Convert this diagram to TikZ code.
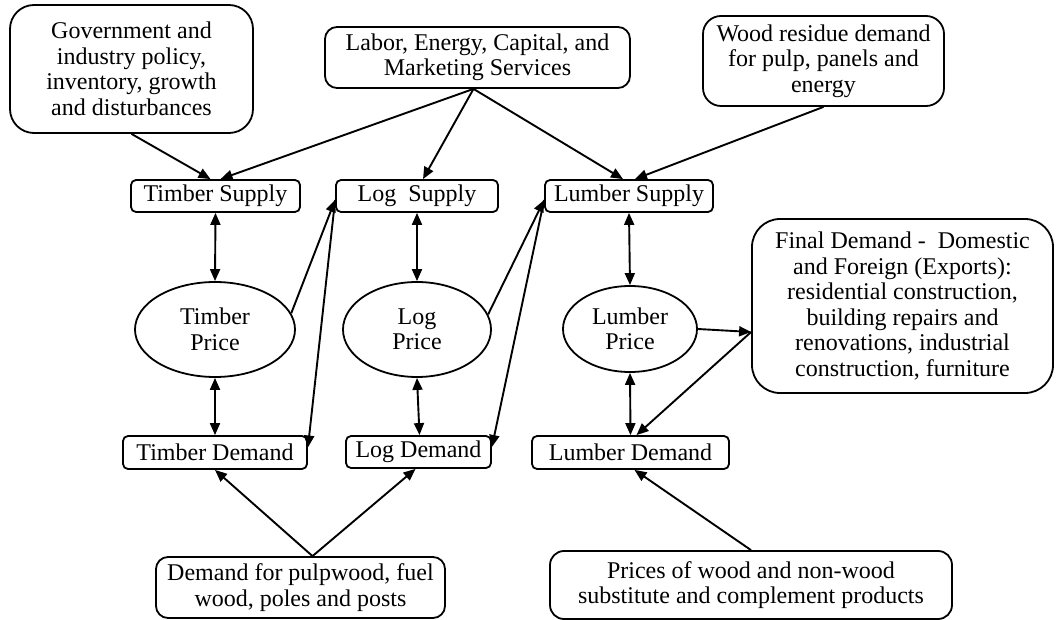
\documentclass[tikz,border=0pt]{standalone}
\usepackage{fontspec}
\setmainfont{Liberation Serif}
\usetikzlibrary{arrows.meta,shapes.geometric}
\begin{document}
\begin{tikzpicture}[x=1pt,y=-1pt,
  box/.style={draw, line width=1.8pt, rectangle, rounded corners=#1, inner sep=0pt, align=center,
    font=\fontsize{24}{25.5}\selectfont},
  box/.default=5pt,
  price/.style={draw, line width=1.8pt, ellipse, inner sep=0pt, align=center,
    font=\fontsize{24}{25.5}\selectfont},
  conn/.style={line width=1.9pt, -{Triangle[length=12pt,width=10pt]}},
  dconn/.style={line width=1.9pt, {Triangle[length=12pt,width=10pt]}-{Triangle[length=12pt,width=10pt]}}
]
\useasboundingbox (0,0) rectangle (1063,620);

% top inputs
\node[box=24pt, minimum width=243pt, minimum height=128pt] (gov) at (131.5,69)
  {Government and\\industry policy,\\inventory, growth\\and disturbances};
\node[box=12pt, minimum width=305pt, minimum height=61pt] (lab) at (477.5,57.5)
  {Labor, Energy, Capital, and\\Marketing Services};
\node[box=18pt, minimum width=241pt, minimum height=90pt] (wood) at (823.5,61)
  {Wood residue demand\\for pulp, panels and\\energy};

% supplies
\node[box, minimum width=169pt, minimum height=32pt] (ts) at (215.5,196) {Timber Supply};
\node[box, minimum width=162pt, minimum height=32pt] (ls) at (417,196) {Log\ \ Supply};
\node[box, minimum width=168pt, minimum height=32pt] (us) at (629,196) {Lumber Supply};

% prices
\node[price, minimum width=160pt, minimum height=95pt] (tp) at (215,329.5) {Timber\\Price};
\node[price, minimum width=148pt, minimum height=95pt] (lp) at (417,329.5) {Log\\Price};
\node[price, minimum width=134pt, minimum height=86pt] (up) at (630,329) {Lumber\\Price};

% demands
\node[box, minimum width=184pt, minimum height=33pt] (td) at (215,452.5) {Timber Demand};
\node[box, minimum width=145pt, minimum height=32pt] (ld) at (418.5,452) {Log Demand};
\node[box, minimum width=197pt, minimum height=33pt] (ud) at (630.5,452.5) {Lumber Demand};

% final demand
\node[box=28pt, minimum width=301pt, minimum height=174pt] (fd) at (902.5,306)
  {Final Demand -\ \ Domestic\\and Foreign (Exports):\\residential construction,\\building repairs and\\renovations, industrial\\construction, furniture};

% bottom inputs
\node[box=12pt, minimum width=289pt, minimum height=61pt] (pw) at (300.5,587.5)
  {Demand for pulpwood, fuel\\wood, poles and posts};
\node[box=14pt, minimum width=402pt, minimum height=68pt] (pc) at (751,585)
  {Prices of wood and non-wood\\substitute and complement products};

% top arrows
\draw[conn] (gov.south) -- ([xshift=-5pt]ts.north);
\draw[conn] ([xshift=-4pt]lab.south) -- ([xshift=5pt]ts.north);
\draw[conn] ([xshift=-4pt]lab.south) -- ([xshift=6pt]ls.north);
\draw[conn] ([xshift=-4pt]lab.south) -- ([xshift=-6pt]us.north);
\draw[conn] (wood.south) -- ([xshift=6pt]us.north);

% supply <-> price <-> demand
\draw[dconn] (ts.south) -- (tp.north);
\draw[dconn] (ls.south) -- (lp.north);
\draw[dconn] (us.south) -- (up.north);
\draw[dconn] (tp.south) -- (td.north);
\draw[dconn] (lp.south) -- ([xshift=1pt]ld.north);
\draw[dconn] (up.south) -- (ud.north);

% cross links
\draw[conn] (tp.12) -- ([yshift=-4pt]ls.west);
\draw[conn] ([yshift=-4pt]ls.west) -- ([yshift=5pt]td.east);
\draw[conn] (lp.12) -- ([yshift=-4pt]us.west);
\draw[conn] ([yshift=-4pt]us.west) -- ([yshift=5pt]ld.east);

% final demand links
\draw[conn] (up.east) -- ([yshift=-26pt]fd.west);
\draw[conn] ([yshift=-26pt]fd.west) -- ([xshift=6pt]ud.north);

% bottom arrows
\draw[conn] ([xshift=12pt]pw.north) -- (td.south);
\draw[conn] ([xshift=12pt]pw.north) -- ([xshift=-3pt]ld.south);
\draw[conn] (pc.north) -- ([xshift=4pt]ud.south);
\end{tikzpicture}
\end{document}
